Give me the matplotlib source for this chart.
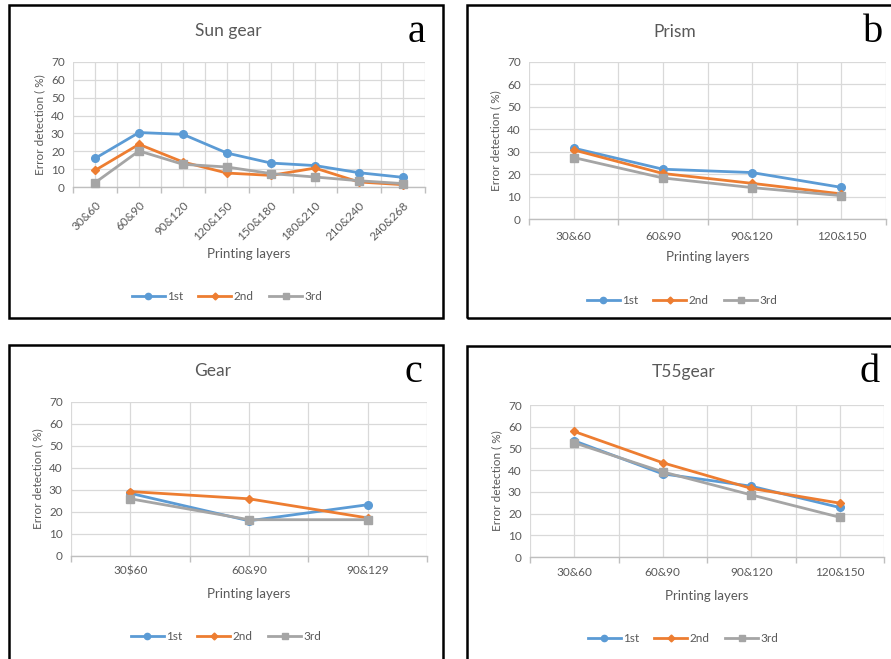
import matplotlib
matplotlib.use("Agg")
import matplotlib.pyplot as plt
from matplotlib.patches import Rectangle
from matplotlib.lines import Line2D

plt.rcParams['font.family'] = ['Lato', 'DejaVu Sans']

W, H = 891, 659

# ---- data ----
sun_cats = ["30&60", "60&90", "90&120", "120&150", "150&180", "180&210", "210&240", "240&268"]
sun_1st = [16, 30.5, 29.5, 19, 13.4, 12, 8, 5.4]
sun_2nd = [9.3, 23.9, 14, 7.8, 6.5, 10.6, 2.8, 1.3]
sun_3rd = [2.4, 20.2, 12.7, 11.2, 7.5, 5.6, 3.5, 1.9]

prism_cats = ["30&60", "60&90", "90&120", "120&150"]
prism_1st = [31.6, 22.2, 20.7, 14.1]
prism_2nd = [30.8, 20.3, 15.9, 11.2]
prism_3rd = [27.4, 18.3, 14.0, 10.4]

gear_cats = ["30$60", "60&90", "90&129"]
gear_1st = [28.5, 16.0, 23.3]
gear_2nd = [29.3, 26.0, 17.3]
gear_3rd = [26.0, 16.5, 16.5]

t55_cats = ["30&60", "60&90", "90&120", "120&150"]
t55_1st = [53.5, 38.3, 32.6, 22.8]
t55_2nd = [57.8, 43.4, 31.6, 24.8]
t55_3rd = [52.6, 39.2, 28.6, 18.3]

y_ticks = [0, 10, 20, 30, 40, 50, 60, 70]
series_names = ["1st", "2nd", "3rd"]

BLUE, ORANGE, GRAY = "#5B9BD5", "#ED7D31", "#A5A5A5"
TXT = "#595959"
GRID = "#D9D9D9"
styles = [(BLUE, "o", 5.5), (ORANGE, "D", 4.5), (GRAY, "s", 5.5)]

fig = plt.figure(figsize=(W / 100, H / 100), dpi=100)


def fx(x):
    return x / W


def fy(y):
    return 1 - y / H


def add_box(x0, y0, x1, y1):
    fig.patches.append(Rectangle((fx(x0), fy(y1)), fx(x1) - fx(x0), fy(y0) - fy(y1),
                                 transform=fig.transFigure, fill=False,
                                 edgecolor="black", linewidth=1.8, zorder=0))


def panel(box, plot, cats, series, title, letter, title_xy, letter_xy,
          tick_y_lab, xlabel_y, legend_xy, rotate=False):
    add_box(*box)
    l, t, r, b = plot
    ax = fig.add_axes([fx(l), fy(b), fx(r) - fx(l), fy(t) - fy(b)])
    n = len(cats)
    xs = list(range(n))
    for vals, (c, m, ms) in zip(series, styles):
        ax.plot(xs, vals, color=c, lw=2.0, marker=m, ms=ms, solid_capstyle="round",
                zorder=3, clip_on=False)
    ax.set_xlim(-0.5, n - 0.5)
    ax.set_ylim(0, 70)
    ax.set_yticks(y_ticks)
    ax.set_xticks(xs)
    ax.set_xticks([i - 0.5 for i in range(n + 1)], minor=True)
    ax.grid(True, which="both", color=GRID, lw=0.9)
    ax.set_axisbelow(True)
    for s in ["top", "right", "left"]:
        ax.spines[s].set_visible(False)
    ax.spines["bottom"].set_color("#BFBFBF")
    ax.spines["bottom"].set_linewidth(1.0)
    ax.tick_params(axis="y", length=0, labelsize=8.5, labelcolor=TXT, pad=6)
    ax.tick_params(axis="x", which="major", length=0, labelsize=8.5, labelcolor=TXT)
    ax.tick_params(axis="x", which="minor", length=4, color="#BFBFBF", width=1.0)
    if rotate:
        ax.set_xticklabels(cats, rotation=45, ha="right", va="top",
                           rotation_mode="anchor")
        ax.tick_params(axis="x", which="major", pad=9)
    else:
        ax.set_xticklabels([])
        for i, c in enumerate(cats):
            xp = l + (r - l) * (i + 0.5) / n
            fig.text(fx(xp), fy(tick_y_lab), c, ha="center", va="center",
                     fontsize=8.5, color=TXT)
    ax.set_ylabel("Error detection ( %)", fontsize=8.5, color=TXT, labelpad=4)
    fig.text(fx((l + r) / 2), fy(xlabel_y), "Printing layers", ha="center",
             va="center", fontsize=9.5, color=TXT)
    fig.text(fx(title_xy[0]), fy(title_xy[1]), title, ha="center", va="center",
             fontsize=12.5, color=TXT)
    fig.text(fx(letter_xy[0]), fy(letter_xy[1]), letter, ha="center", va="center",
             fontsize=29, family="Liberation Serif", color="black")
    handles = [Line2D([], [], color=c, lw=2.0, marker=m, ms=ms - 1)
               for c, m, ms in styles]
    fig.legend(handles, series_names, loc="center",
               bbox_to_anchor=(fx(legend_xy[0]), fy(legend_xy[1])),
               ncol=3, frameon=False, fontsize=8.5, labelcolor=TXT,
               handlelength=2.8, handletextpad=0.2, columnspacing=1.3)
    return ax


panel((9, 5, 443, 318), (73, 62, 425, 187), sun_cats,
      [sun_1st, sun_2nd, sun_3rd], "Sun gear", "a",
      (228, 31), (417, 33), None, 254, (227, 297), rotate=True)

panel((467, 5, 900, 318), (529, 62, 886, 219), prism_cats,
      [prism_1st, prism_2nd, prism_3rd], "Prism", "b",
      (675, 32), (873, 33), 236, 257, (682, 301))

panel((9, 345, 443, 670), (71, 402, 427, 556), gear_cats,
      [gear_1st, gear_2nd, gear_3rd], "Gear", "c",
      (213, 371), (413, 373), 571, 594, (226, 637))

panel((467, 346, 900, 670), (530, 405, 884, 557), t55_cats,
      [t55_1st, t55_2nd, t55_3rd], "T55gear", "d",
      (684, 372), (870, 372), 573, 596, (683, 639))

fig.savefig("out.png", dpi=100, facecolor="white")
